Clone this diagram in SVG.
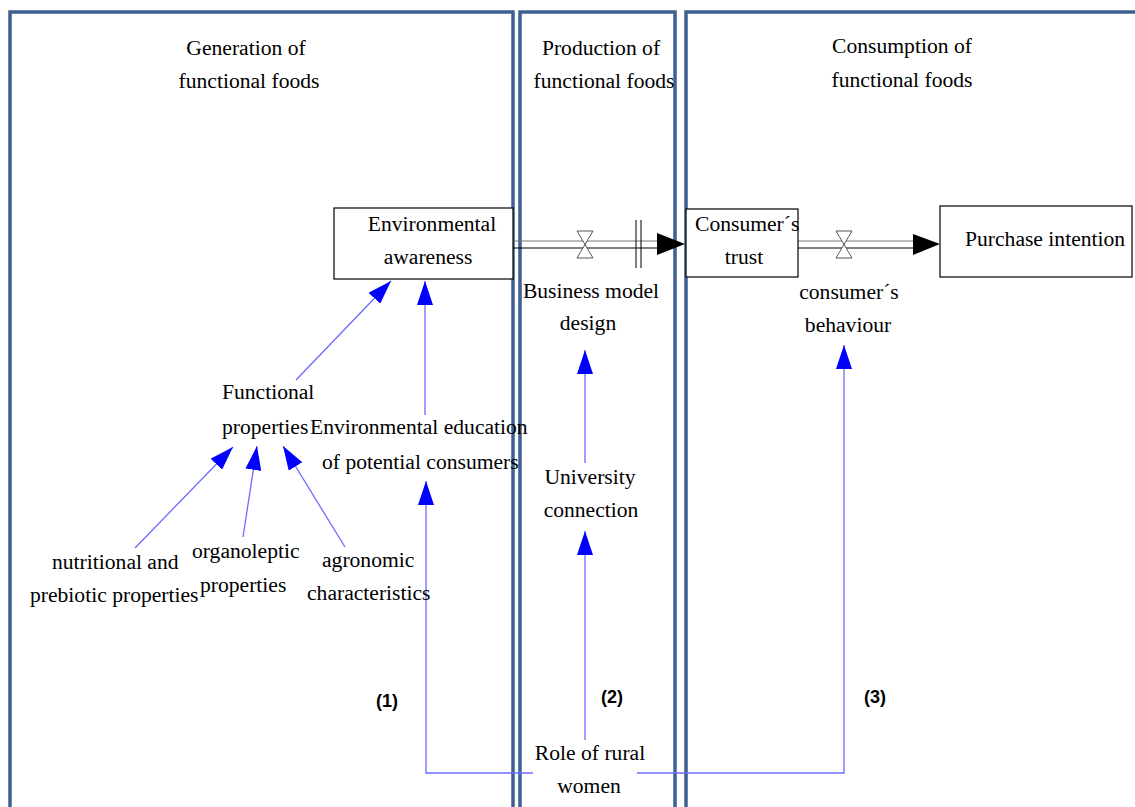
<svg xmlns="http://www.w3.org/2000/svg" width="1135" height="807" viewBox="0 0 1135 807">
<defs>
<style>
.panel{fill:none;stroke:#3d6091;stroke-width:3.5}
.box{fill:#fff;stroke:#000;stroke-width:1.2}
.t{font-family:"Liberation Serif","Times New Roman",serif;font-size:21.6px;fill:#000}
.m{text-anchor:middle}
.num{font-family:"Liberation Sans",Arial,sans-serif;font-size:18px;font-weight:bold;fill:#000;text-anchor:middle}
.bl{fill:none;stroke:#6b6bff;stroke-width:1.3}
.valve{fill:#fff;stroke:#555;stroke-width:1}
</style>
<marker id="ba" viewBox="0 0 24 16" refX="24" refY="8" markerWidth="24" markerHeight="16" markerUnits="userSpaceOnUse" orient="auto">
<path d="M0,0 L24,8 L0,16 Z" fill="#0000ff"/>
</marker>
</defs>
<rect width="1135" height="807" fill="#fff"/>
<g id="panels">
<rect id="panel-generation" class="panel" x="10" y="12" width="503" height="820"/>
<rect id="panel-production" class="panel" x="520" y="12" width="155" height="820"/>
<rect id="panel-consumption" class="panel" x="686" y="12" width="470" height="820"/>
</g>
<g id="headers">
<text class="t m" x="246" y="55">Generation of</text>
<text class="t m" x="249" y="88">functional foods</text>
<text class="t m" x="601" y="55">Production of</text>
<text class="t m" x="604" y="88">functional foods</text>
<text class="t m" x="902" y="53">Consumption of</text>
<text class="t m" x="902" y="87">functional foods</text>
</g>
<g id="connectors">
<g id="flow1">
<line x1="513" y1="241" x2="660" y2="241" stroke="#777" stroke-width="1.2"/>
<line x1="513" y1="248" x2="660" y2="248" stroke="#000" stroke-width="1.2"/>
<path class="valve" d="M577,231 L593,231 L577,258 L593,258 Z"/>
<line x1="636" y1="220" x2="636" y2="268" stroke="#000" stroke-width="1"/>
<line x1="641" y1="220" x2="641" y2="268" stroke="#000" stroke-width="1"/>
<path d="M657,233 L685,244 L657,255 Z" fill="#000"/>
</g>
<g id="flow2">
<line x1="798" y1="241" x2="915" y2="241" stroke="#777" stroke-width="1.2"/>
<line x1="798" y1="248" x2="915" y2="248" stroke="#000" stroke-width="1.2"/>
<path class="valve" d="M836,231 L852,231 L836,258 L852,258 Z"/>
<path d="M913,234 L940,244 L913,255 Z" fill="#000"/>
</g>
<line class="bl" x1="296" y1="380" x2="391" y2="281" marker-end="url(#ba)"/>
<line class="bl" x1="425" y1="415" x2="425" y2="281" marker-end="url(#ba)"/>
<line class="bl" x1="135" y1="548" x2="233" y2="447" marker-end="url(#ba)"/>
<line class="bl" x1="243" y1="537" x2="257" y2="446" marker-end="url(#ba)"/>
<line class="bl" x1="345" y1="547" x2="283" y2="446" marker-end="url(#ba)"/>
<polyline class="bl" points="533,773 426,773 426,481" marker-end="url(#ba)"/>
<polyline class="bl" points="637,773 844,773 844,345" marker-end="url(#ba)"/>
<line class="bl" x1="585" y1="740" x2="585" y2="531" marker-end="url(#ba)"/>
<line class="bl" x1="585" y1="463" x2="585" y2="350" marker-end="url(#ba)"/>
</g>
<g id="environmental-awareness">
<rect class="box" x="334" y="208" width="179" height="71"/>
<text class="t m" x="432" y="231">Environmental</text>
<text class="t m" x="428" y="264">awareness</text>
</g>
<g id="consumers-trust">
<rect class="box" x="686" y="209" width="112" height="68"/>
<text class="t" x="695" y="231">Consumer´s</text>
<text class="t m" x="744" y="264">trust</text>
</g>
<g id="purchase-intention">
<rect class="box" x="940" y="206" width="192" height="71"/>
<text class="t" x="965" y="246">Purchase intention</text>
</g>
<g id="business-model-design">
<text class="t m" x="591" y="298">Business model</text>
<text class="t m" x="588" y="330">design</text>
</g>
<g id="consumers-behaviour">
<text class="t m" x="849" y="299">consumer´s</text>
<text class="t m" x="848" y="332">behaviour</text>
</g>
<g id="functional-properties">
<text class="t" x="222" y="399">Functional</text>
<text class="t" x="222" y="434">properties</text>
</g>
<g id="environmental-education">
<text class="t" x="310" y="434">Environmental education</text>
<text class="t" x="322" y="469">of potential consumers</text>
</g>
<g id="university-connection">
<text class="t m" x="590" y="484">University</text>
<text class="t m" x="591" y="517">connection</text>
</g>
<g id="nutritional">
<text class="t" x="52" y="569">nutritional and</text>
<text class="t" x="30" y="602">prebiotic properties</text>
</g>
<g id="organoleptic">
<text class="t" x="192" y="558">organoleptic</text>
<text class="t" x="200" y="592">properties</text>
</g>
<g id="agronomic">
<text class="t" x="322" y="567">agronomic</text>
<text class="t" x="307" y="600">characteristics</text>
</g>
<g id="labels">
<text class="num" x="387" y="707">(1)</text>
<text class="num" x="612" y="703">(2)</text>
<text class="num" x="875" y="703">(3)</text>
</g>
<g id="role-of-rural-women">
<text class="t m" x="590" y="760">Role of rural</text>
<text class="t m" x="589" y="793">women</text>
</g>
</svg>
